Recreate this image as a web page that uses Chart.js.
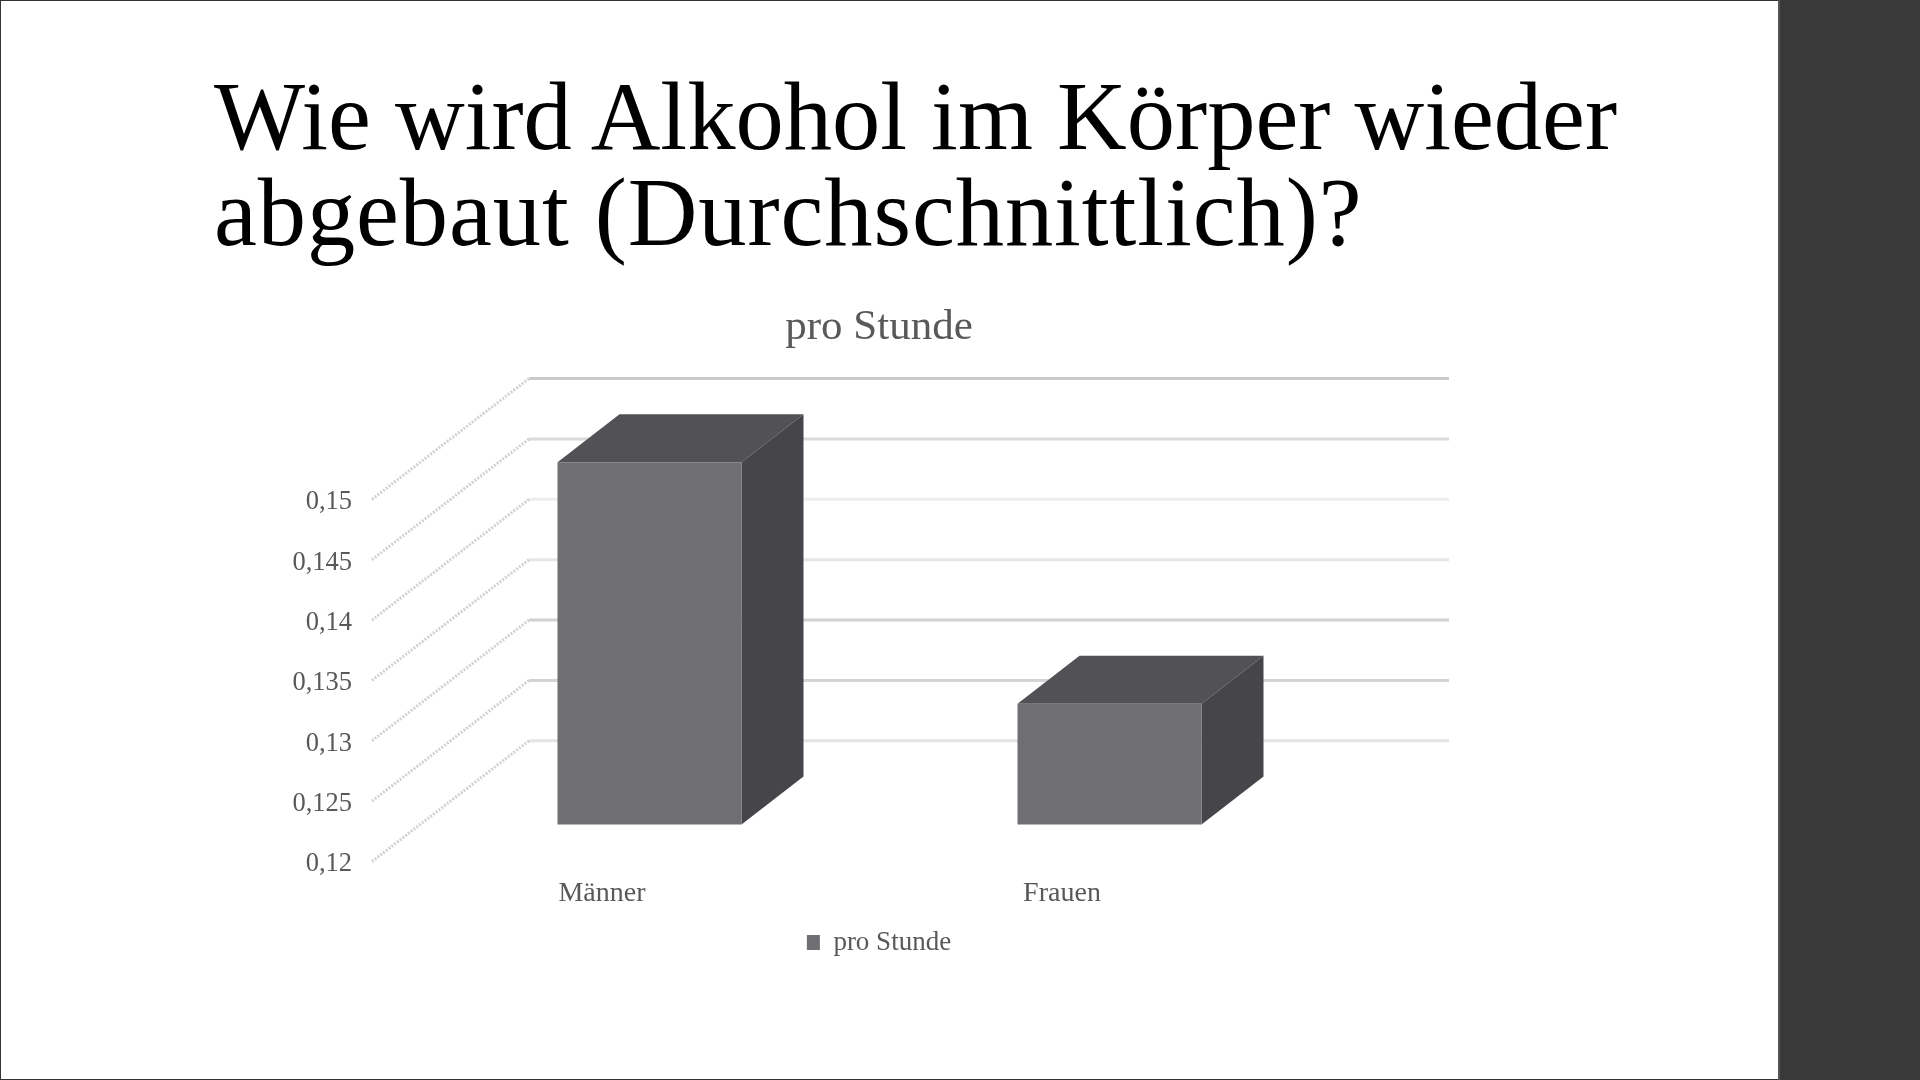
<!DOCTYPE html>
<html lang="de">
<head>
<meta charset="utf-8">
<title>Wie wird Alkohol im Körper wieder abgebaut (Durchschnittlich)?</title>
<script src="https://cdn.jsdelivr.net/npm/chart.js@4"></script>
<style>
html,body{margin:0;padding:0;width:1920px;height:1080px;overflow:hidden;background:#fff}
#frame{position:absolute;left:0;top:0;width:1778px;height:1080px;border-top:1px solid #333;border-left:1px solid #333;border-bottom:1px solid #333;box-sizing:border-box}
#band{position:absolute;left:1778px;top:0;width:142px;height:1080px;background:#39393a;border-left:2px solid #555;box-sizing:border-box}
h1{position:absolute;left:214px;top:69px;margin:0;font:400 96.5px/96px "Liberation Serif",serif;color:#000;white-space:pre}
h1 span{display:block}
h1 span+span{letter-spacing:.92px}
canvas{position:absolute;left:0;top:0}
</style>
</head>
<body>
<div id="frame"></div>
<div id="band"></div>
<h1 id="heading"><span>Wie wird Alkohol im Körper wieder</span><span>abgebaut (Durchschnittlich)?</span></h1>
<canvas id="c" width="1600" height="1080"></canvas>
<script>
const categories = ['Männer', 'Frauen'];
const seriesLabel = 'pro Stunde';
const seriesValues = [0.15, 0.13];
const wallTicks = [0.12, 0.125, 0.13, 0.135, 0.14, 0.145, 0.15];
const wallColors = ['#e4e4e4', '#d4d4d4', '#d2d2d2', '#e6e6e6', '#eeeeee', '#dadada', '#cacaca'];
const FRONT = '#6f6e72', TOP = '#525155', SIDE = '#464549';
const TEXT = '#595959', SERIF = '"Liberation Serif", serif';

// depth of the 3D floor, expressed on the value scale and in px
const WALL_SHIFT = 0.01, WALL_DX = 157;
const BAR_DX = 47.5, BAR_DY = -37, SIDE_DX = 62, SIDE_DY = -48;

const box3d = {
  id: 'box3d',
  beforeDatasetsDraw(chart) {
    const { ctx, chartArea: a } = chart, y = chart.scales.y;
    ctx.save();
    wallTicks.forEach((v, i) => {
      const y0 = y.getPixelForValue(v), y1 = y.getPixelForValue(v + WALL_SHIFT);
      ctx.strokeStyle = wallColors[i];
      ctx.lineWidth = 3;
      ctx.beginPath();
      ctx.moveTo(a.left + WALL_DX, y1);
      ctx.lineTo(a.right + WALL_DX, y1);
      ctx.stroke();
      ctx.strokeStyle = '#d2d2d2';
      ctx.lineWidth = 3;
      ctx.setLineDash([2, 1.5]);
      ctx.beginPath();
      ctx.moveTo(a.left, y0);
      ctx.lineTo(a.left + WALL_DX, y1);
      ctx.stroke();
      ctx.setLineDash([]);
    });
    ctx.restore();
  },
  beforeDatasetDraw(chart, args) {
    const { ctx } = chart;
    ctx.save();
    ctx.translate(BAR_DX, BAR_DY);
    args.meta.data.forEach(b => {
      const l = b.x - b.width / 2, r = b.x + b.width / 2;
      ctx.fillStyle = TOP;
      ctx.beginPath();
      ctx.moveTo(l, b.y); ctx.lineTo(l + SIDE_DX, b.y + SIDE_DY);
      ctx.lineTo(r + SIDE_DX, b.y + SIDE_DY); ctx.lineTo(r, b.y);
      ctx.closePath(); ctx.fill();
      ctx.fillStyle = SIDE;
      ctx.beginPath();
      ctx.moveTo(r, b.y); ctx.lineTo(r + SIDE_DX, b.y + SIDE_DY);
      ctx.lineTo(r + SIDE_DX, b.base + SIDE_DY); ctx.lineTo(r, b.base);
      ctx.closePath(); ctx.fill();
    });
  },
  afterDatasetDraw(chart) { chart.ctx.restore(); }
};

new Chart(document.getElementById('c'), {
  type: 'bar',
  data: {
    labels: categories,
    datasets: [{
      label: seriesLabel,
      data: seriesValues,
      base: 0.12,
      backgroundColor: FRONT,
      barPercentage: 0.4,
      categoryPercentage: 1,
      clip: false
    }]
  },
  plugins: [box3d],
  options: {
    responsive: false,
    devicePixelRatio: 1,
    animation: false,
    layout: { padding: { left: 272, right: 114, top: 302, bottom: 114 } },
    plugins: {
      tooltip: { enabled: false },
      title: {
        display: true, text: seriesLabel, color: TEXT,
        font: { family: SERIF, size: 43, weight: 'normal' },
        padding: { top: 0, bottom: 25 }
      },
      legend: {
        position: 'bottom',
        labels: {
          color: TEXT, boxWidth: 13, boxHeight: 15, padding: 10,
          font: { family: SERIF, size: 27 }
        }
      }
    },
    scales: {
      x: {
        grid: { display: false }, border: { display: false },
        ticks: { color: TEXT, font: { family: SERIF, size: 28 }, padding: 7 },
        afterFit(s) { s.height = 57.5; }
      },
      y: {
        min: 0.12, max: 0.16,
        grid: { display: false }, border: { display: false },
        afterFit(s) { s.width = 100; },
        ticks: {
          stepSize: 0.005, autoSkip: false, color: TEXT, padding: 12, labelOffset: 3,
          font: { family: SERIF, size: 26.5 },
          callback(v) {
            const n = Number(v.toFixed(3));
            return wallTicks.includes(n) ? String(n).replace('.', ',') : '';
          }
        }
      },
      // empty right-hand axis: reserves the margin so title and legend centre as in the slide
      margin: {
        type: 'linear', position: 'right',
        grid: { display: false }, border: { display: false },
        ticks: { display: false },
        afterFit(s) { s.width = 194; }
      }
    }
  }
});
</script>
</body>
</html>
